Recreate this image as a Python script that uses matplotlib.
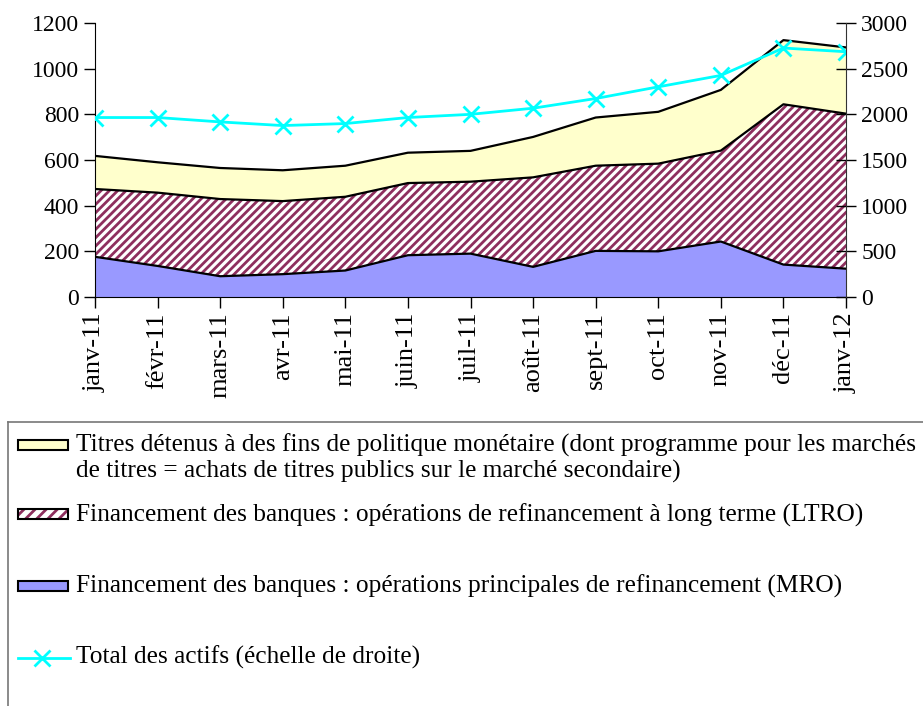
import numpy as np
import matplotlib.pyplot as plt
from matplotlib.patches import Rectangle
from matplotlib.lines import Line2D

plt.rcParams['font.family'] = ['Liberation Serif', 'DejaVu Serif']
plt.rcParams['hatch.linewidth'] = 2.0

# months
mois = ['janv-11', 'févr-11', 'mars-11', 'avr-11', 'mai-11', 'juin-11', 'juil-11',
        'août-11', 'sept-11', 'oct-11', 'nov-11', 'déc-11', 'janv-12']

# (left scale, stacked)
mro = [176, 136, 91, 100, 116, 183, 190, 132, 202, 200, 243, 142, 124]
ltro = [297, 321, 338, 320, 323, 316, 315, 392, 373, 384, 398, 702, 679]
titres = [145, 133, 136, 135, 136, 133, 135, 177, 211, 227, 266, 281, 290]

# right scale
total = [1965, 1965, 1917, 1877, 1899, 1965, 2000, 2067, 2173, 2301, 2426, 2726, 2685]

lab_titres = ("Titres détenus à des fins de politique monétaire (dont programme pour les marchés\n"
              "de titres = achats de titres publics sur le marché secondaire)")
lab_ltro = "Financement des banques : opérations de refinancement à long terme (LTRO)"
lab_mro = "Financement des banques : opérations principales de refinancement (MRO)"
lab_total = "Total des actifs (échelle de droite)"

c_yellow = '#FFFFCC'
c_blue = '#9999FF'
c_hatch = '#8E2F5E'
c_cyan = '#00FFFF'

x = np.arange(len(mois))
y1 = np.array(mro)
y2 = y1 + np.array(ltro)
y3 = y2 + np.array(titres)

fig = plt.figure(figsize=(9.23, 7.06), dpi=100)
ax = fig.add_axes([95/923, 1-297/706, (846-95)/923, (297-23)/706])

ax.fill_between(x, 0, y1, facecolor=c_blue, edgecolor='none')
ax.fill_between(x, y1, y2, facecolor='white', edgecolor=c_hatch, hatch='////', linewidth=0)
ax.fill_between(x, y2, y3, facecolor=c_yellow, edgecolor='none')
for y in (y1, y2, y3):
    ax.plot(x, y, color='black', lw=1.6)

ax.set_xlim(0, 12)
ax.set_ylim(0, 1200)
ax.set_yticks(np.arange(0, 1201, 200))
ax.set_xticks(x)
ax.set_xticklabels(mois, rotation=90, fontsize=19)
ax.tick_params(axis='y', labelsize=17, direction='out', length=8, width=1)
ax.tick_params(axis='x', direction='out', length=8, width=1, pad=3)
ax.spines['top'].set_visible(False)
ax.spines['right'].set_visible(False)

ax2 = ax.twinx()
ax2.plot(x, total, color=c_cyan, lw=2, marker='x', markersize=11, markeredgewidth=2)
ax2.set_ylim(0, 3000)
ax2.set_yticks(np.arange(0, 3001, 500))
ax2.tick_params(axis='y', labelsize=17, direction='inout', length=15, width=1)
ax2.spines['top'].set_visible(False)
ax2.spines['left'].set_visible(False)
ax2.spines['bottom'].set_visible(False)
ax2.spines['right'].set_color('#333333')

# legend frame (top and left edges visible)
fig.add_artist(Line2D([8/923, 1], [1-422/706, 1-422/706], color='#777777', lw=1.2))
fig.add_artist(Line2D([8/923, 8/923], [0, 1-422/706], color='#777777', lw=1.2))

def fy(p):
    return 1 - p/706

fs = 18.3
# legend entries
pw, ph = 50/923, 10/706
fig.add_artist(Rectangle((18/923, fy(450)), pw, ph, facecolor=c_yellow, edgecolor='black', lw=1.5))
fig.text(76/923, fy(458), lab_titres, fontsize=fs, va='center', linespacing=1.15)

fig.add_artist(Rectangle((18/923, fy(519)), pw, ph, facecolor='white', edgecolor=c_hatch,
                         hatch='///', lw=0))
fig.add_artist(Rectangle((18/923, fy(519)), pw, ph, facecolor='none', edgecolor='black', lw=1.5))
fig.text(76/923, fy(515), lab_ltro, fontsize=fs, va='center')

fig.add_artist(Rectangle((18/923, fy(591)), pw, ph, facecolor=c_blue, edgecolor='black', lw=1.5))
fig.text(76/923, fy(586), lab_mro, fontsize=fs, va='center')

fig.add_artist(Line2D([18/923, 70/923], [fy(658), fy(658)], color=c_cyan, lw=2))
fig.add_artist(Line2D([42/923], [fy(658)], color=c_cyan, marker='x', markersize=11,
                      markeredgewidth=2))
fig.text(76/923, fy(657), lab_total, fontsize=fs, va='center')

fig.savefig('out.png', dpi=100)
